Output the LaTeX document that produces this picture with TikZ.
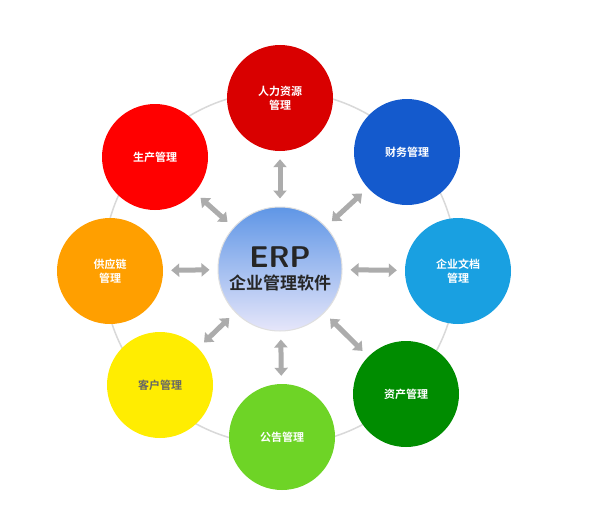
\documentclass[tikz,border=0pt]{standalone}
\usepackage{fontspec}
\newfontfamily\cjk{Noto Sans CJK SC}
\newfontfamily\cjkb{Noto Sans CJK SC Bold}
\usetikzlibrary{arrows.meta}
\definecolor{fin}{RGB}{20,90,205}
\definecolor{doc}{RGB}{25,160,225}
\definecolor{ctop}{RGB}{95,150,230}
\definecolor{cbot}{RGB}{230,230,250}
\begin{document}
\begin{tikzpicture}[x=1pt,y=-1pt,
  outer/.style={circle,minimum size=106pt,inner sep=0pt,text=white,font=\cjkb\fontsize{11}{14}\selectfont,align=center},
  link/.style={draw=gray!65,line width=5pt,{Triangle[length=8pt,width=13pt]}-{Triangle[length=8pt,width=13pt]},shorten >=8pt,shorten <=8pt}]
\useasboundingbox (0,0) rectangle (601,519);
\fill[white] (0,0) rectangle (601,519);
\draw[gray!30,line width=1.5pt] (280,268) circle (177);
\node[circle,minimum size=124pt,inner sep=0pt,draw=gray!25,line width=1pt,top color=ctop,bottom color=cbot,align=center,text=black!85] (c) at (280,269)
 {\sffamily\bfseries\fontsize{30}{30}\selectfont ERP\\[6pt]\cjkb\fontsize{17}{20}\selectfont 企业管理软件};
\node[outer,fill=red!85!black] (a) at (280,98) {人力资源\\管理};
\node[outer,fill=fin] (b) at (407,152) {财务管理};
\node[outer,fill=doc] (d) at (458,271) {企业文档\\管理};
\node[outer,fill=green!55!black] (e) at (406,394) {资产管理};
\node[outer,fill=green!45!lime!80!black!85] (f) at (282,437) {公告管理};
\node[outer,fill=yellow!95!orange] (g) at (160,385) {\textcolor{black!60}{客户管理}};
\node[outer,fill=orange!75!yellow] (h) at (110,271) {供应链\\管理};
\node[outer,fill=red] (i) at (155,157) {生产管理};
\foreach \n in {a,b,d,e,f,g,h,i} \draw[link] (c) -- (\n);
\end{tikzpicture}
\end{document}
